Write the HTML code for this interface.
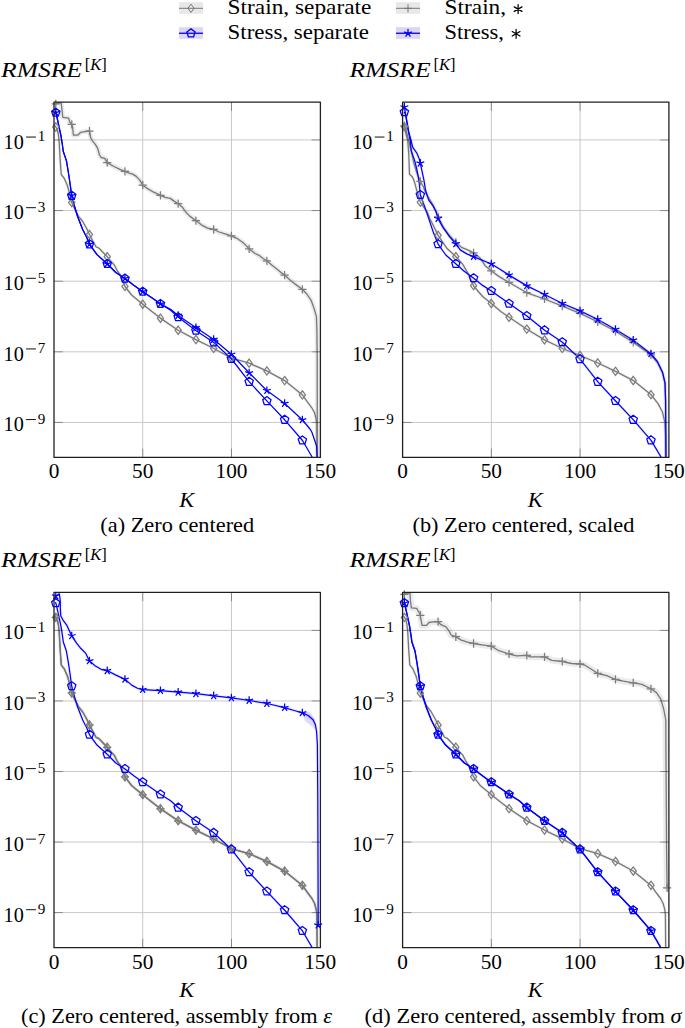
<!DOCTYPE html><html><head><meta charset="utf-8"><style>html,body{margin:0;padding:0;background:#fff;width:685px;height:1028px;overflow:hidden}svg{display:block}text{font-family:"Liberation Serif",serif}</style></head><body>
<svg width="685" height="1028" viewBox="0 0 685 1028">
<rect x="179" y="2.2" width="24" height="11.6" fill="#e8e8e8"/><path d="M179 8.3H203" stroke="#777777" stroke-width="1.0"/><path d="M191 4.16L194.1 8.3L191 12.44L187.9 8.3Z" fill="none" stroke="#777777" stroke-width="1.0"/>
<rect x="179" y="27.2" width="24" height="11.6" fill="#dcd5f4"/><path d="M179 33.25H203" stroke="#0000ff" stroke-width="1.3"/><path d="M191 28.86L186.83 31.89L188.42 36.8L193.58 36.8L195.17 31.89Z" fill="none" stroke="#0000ff" stroke-width="1.3"/>
<rect x="396" y="2.2" width="24" height="11.6" fill="#e8e8e8"/><path d="M396 8.3H420" stroke="#777777" stroke-width="1.0"/><path d="M403.86 8.3H412.14M408 4.16V12.44" fill="none" stroke="#777777" stroke-width="1.0"/>
<rect x="396" y="27.2" width="24" height="11.6" fill="#dcd5f4"/><path d="M396 33.25H420" stroke="#0000ff" stroke-width="1.3"/><path d="M408 33.25L408 29.11M408 33.25L404.06 31.97M408 33.25L405.57 36.6M408 33.25L410.43 36.6M408 33.25L411.94 31.97" fill="none" stroke="#0000ff" stroke-width="1.3"/>
<text x="227.6" y="14.4" font-size="20.7" textLength="143.8" lengthAdjust="spacingAndGlyphs">Strain, separate</text>
<text x="227.6" y="39.1" font-size="20.7" textLength="141.4" lengthAdjust="spacingAndGlyphs">Stress, separate</text>
<text x="444.6" y="14.4" font-size="20.7" textLength="61.5" lengthAdjust="spacingAndGlyphs">Strain,</text>
<text x="444.6" y="39.1" font-size="20.7" textLength="59.3" lengthAdjust="spacingAndGlyphs">Stress,</text>
<path d="M518.1 13.6L518.1 4.6M514.2 11.35L522 6.85M522 11.35L514.2 6.85" stroke="#000" stroke-width="1.25" stroke-linecap="round" fill="none"/>
<path d="M516.1 38.3L516.1 29.3M512.2 36.05L520 31.55M520 36.05L512.2 31.55" stroke="#000" stroke-width="1.25" stroke-linecap="round" fill="none"/>
<path d="M142.73 102.1V457.4M231.47 102.1V457.4M54 139.95H320.4M54 210.57H320.4M54 281.2H320.4M54 351.82H320.4M54 422.45H320.4" stroke="#c9c9c9" stroke-width="1.0" fill="none"/>
<svg x="54" y="102.1" width="266.4" height="355.3" viewBox="54 102.1 266.4 355.3" overflow="hidden">
<path d="M54.9 125.5L57.3 129.5L58.4 134.5L59.2 142.2L59.6 150L60.2 160.6L61.2 174.4L64.3 178.5L65.3 180.8L67.4 185.5L69.4 193L71.5 202L74.5 208.5L78.6 216.3L82.7 221.5L86.8 228.8L89.8 235.2L96 246.8L98.8 248L107.3 256.8L111.3 261.7L114.2 264.7L117.4 271L120.3 275L125 286.5L131.6 295L142.8 304.3L152.2 311.8L160.3 318.1L178.1 330.2L195.9 339.6L213.9 348.5L231.6 358.2L249.2 363.2L266.8 370.9L284.6 380.6L302.5 395L307 401.4L311.8 407.8L314.5 412.8L316.2 419.2L316.8 424.5L317.1 458" fill="none" stroke="#000" stroke-opacity="0.06" stroke-width="3.2" stroke-linejoin="round" stroke-linecap="round"/>
<path d="M55.5 104.2L57 103L61 102.5L61.3 104L62.8 117.3L68.6 118.1L69.7 122.1L71.5 123.7L72.6 127.2L73.4 135.2L77.7 135.2L80.7 132.3L85 131.6L89.5 131L90.7 137.8L92.4 140.8L95.3 144.3L97.7 148.4L99.4 154.8L101.2 157.5L104.7 158.3L107 162.6L114 166.5L119.9 169.4L124.8 171.4L128.6 172.9L132.7 174.1L136.2 176.4L139.7 179.9L142.5 185L146.7 188.1L153.7 192.2L160.5 195.3L165.2 197.4L170.3 198.4L174 201.1L178.4 203.7L182.7 207.6L185.7 212L190 216.4L196.2 220.8L201.7 225.1L207.6 228.1L213.7 229.5L219.2 232L225.1 233.9L231.2 235.8L236.8 238.3L242.6 242.2L246.2 245.6L249.5 249.2L255.1 253.5L259.6 255.7L263 258.5L266.9 260.8L272 265.3L276.5 268.7L281 272.6L284.6 275.1L290 279.9L295.6 284.4L302.6 289.5L306.8 294L311.3 300.7L314.1 308.6L316.4 316.4L316.9 330L317.2 360L317.3 458" fill="none" stroke="#000" stroke-opacity="0.08" stroke-width="5.0" stroke-linejoin="round" stroke-linecap="round"/>
<path d="M54.9 125.5L57.3 129.5L58.4 134.5L59.2 142.2L59.6 150L60.2 160.6L61.2 174.4L64.3 178.5L65.3 180.8L67.4 185.5L69.4 193L71.5 202L74.5 208.5L78.6 216.3L82.7 221.5L86.8 228.8L89.8 235.2L96 246.8L98.8 248L107.3 256.8L111.3 261.7L114.2 264.7L117.4 271L120.3 275L125 286.5L131.6 295L142.8 304.3L152.2 311.8L160.3 318.1L178.1 330.2L195.9 339.6L213.9 348.5L231.6 358.2L249.2 363.2L266.8 370.9L284.6 380.6L302.5 395L307 401.4L311.8 407.8L314.5 412.8L316.2 419.2L316.8 424.5L317.1 458" fill="none" stroke="#777777" stroke-width="1.3" stroke-linejoin="round"/>
<path d="M55.5 104.2L57 103L61 102.5L61.3 104L62.8 117.3L68.6 118.1L69.7 122.1L71.5 123.7L72.6 127.2L73.4 135.2L77.7 135.2L80.7 132.3L85 131.6L89.5 131L90.7 137.8L92.4 140.8L95.3 144.3L97.7 148.4L99.4 154.8L101.2 157.5L104.7 158.3L107 162.6L114 166.5L119.9 169.4L124.8 171.4L128.6 172.9L132.7 174.1L136.2 176.4L139.7 179.9L142.5 185L146.7 188.1L153.7 192.2L160.5 195.3L165.2 197.4L170.3 198.4L174 201.1L178.4 203.7L182.7 207.6L185.7 212L190 216.4L196.2 220.8L201.7 225.1L207.6 228.1L213.7 229.5L219.2 232L225.1 233.9L231.2 235.8L236.8 238.3L242.6 242.2L246.2 245.6L249.5 249.2L255.1 253.5L259.6 255.7L263 258.5L266.9 260.8L272 265.3L276.5 268.7L281 272.6L284.6 275.1L290 279.9L295.6 284.4L302.6 289.5L306.8 294L311.3 300.7L314.1 308.6L316.4 316.4L316.9 330L317.2 360L317.3 458" fill="none" stroke="#777777" stroke-width="1.3" stroke-linejoin="round"/>
<path d="M55.5 111.6L56.6 115.5L58.8 125.7L61 136L62.4 145L63.3 151.5L66.4 160.6L68.4 172.5L70.4 186L71.5 194.8L74.5 206.2L77.6 216.5L82.7 229.5L86.8 237.5L89.4 244.1L97 254.6L107.2 263.8L115.8 272.5L125 278.5L133.8 285.3L142.8 291.7L152.2 298.1L160.3 303.8L170.6 310.3L178.1 317L195.8 330.4L213.8 342.4L231.5 359L249.1 381.7L266.8 400.9L284.7 419.8L302.5 440.5L312.7 458" fill="none" stroke="#0000ff" stroke-width="1.25" stroke-linejoin="round"/>
<path d="M55.5 111.6L56.6 115.5L58.8 125.7L61 136L62.4 145L63.3 151.5L66.4 160.6L68.4 172.5L70.4 186L71.5 194.8L74.5 206.2L77.6 216.5L82.7 229.5L86.8 237.5L89.4 244.1L97 254.6L107.2 263.8L115.8 272.5L125 278.5L133.8 285.3L142.8 291.7L152.2 298.1L160.3 303.8L170.6 309.3L178.1 315.4L195.8 327.6L213.8 339.5L231.4 354.3L249.1 372.8L266.8 390.5L284.7 403.5L302.5 420L310.4 429.5L312 432.5L316.6 446L317.2 458" fill="none" stroke="#0000ff" stroke-width="1.25" stroke-linejoin="round"/>
</svg>
<path d="M55.77 122.82L58.88 126.96L55.77 131.1L52.67 126.96Z" fill="none" stroke="#7d7d7d" stroke-width="1.25"/>
<path d="M71.74 198.38L74.85 202.52L71.74 206.66L68.64 202.52Z" fill="none" stroke="#7d7d7d" stroke-width="1.25"/>
<path d="M89.48 230.38L92.59 234.52L89.48 238.66L86.38 234.52Z" fill="none" stroke="#7d7d7d" stroke-width="1.25"/>
<path d="M107.22 252.58L110.33 256.72L107.22 260.86L104.11 256.72Z" fill="none" stroke="#7d7d7d" stroke-width="1.25"/>
<path d="M124.96 282.26L128.06 286.4L124.96 290.54L121.86 286.4Z" fill="none" stroke="#7d7d7d" stroke-width="1.25"/>
<path d="M142.7 300.08L145.81 304.22L142.7 308.36L139.6 304.22Z" fill="none" stroke="#7d7d7d" stroke-width="1.25"/>
<path d="M160.44 314.06L163.54 318.2L160.44 322.34L157.34 318.2Z" fill="none" stroke="#7d7d7d" stroke-width="1.25"/>
<path d="M178.18 326.1L181.28 330.24L178.18 334.38L175.08 330.24Z" fill="none" stroke="#7d7d7d" stroke-width="1.25"/>
<path d="M195.92 335.47L199.03 339.61L195.92 343.75L192.82 339.61Z" fill="none" stroke="#7d7d7d" stroke-width="1.25"/>
<path d="M213.66 344.24L216.77 348.38L213.66 352.52L210.56 348.38Z" fill="none" stroke="#7d7d7d" stroke-width="1.25"/>
<path d="M231.4 353.95L234.51 358.09L231.4 362.23L228.3 358.09Z" fill="none" stroke="#7d7d7d" stroke-width="1.25"/>
<path d="M249.14 359.04L252.25 363.18L249.14 367.32L246.04 363.18Z" fill="none" stroke="#7d7d7d" stroke-width="1.25"/>
<path d="M266.88 366.8L269.99 370.94L266.88 375.08L263.77 370.94Z" fill="none" stroke="#7d7d7d" stroke-width="1.25"/>
<path d="M284.62 376.48L287.73 380.62L284.62 384.76L281.51 380.62Z" fill="none" stroke="#7d7d7d" stroke-width="1.25"/>
<path d="M302.36 390.75L305.47 394.89L302.36 399.03L299.25 394.89Z" fill="none" stroke="#7d7d7d" stroke-width="1.25"/>
<path d="M51.63 103.98H59.91M55.77 99.84V108.12" fill="none" stroke="#7d7d7d" stroke-width="1.25"/>
<path d="M67.6 124.46H75.88M71.74 120.32V128.6" fill="none" stroke="#7d7d7d" stroke-width="1.25"/>
<path d="M85.34 131H93.62M89.48 126.86V135.14" fill="none" stroke="#7d7d7d" stroke-width="1.25"/>
<path d="M103.08 162.72H111.36M107.22 158.58V166.86" fill="none" stroke="#7d7d7d" stroke-width="1.25"/>
<path d="M120.82 171.46H129.1M124.96 167.32V175.6" fill="none" stroke="#7d7d7d" stroke-width="1.25"/>
<path d="M138.56 185.15H146.84M142.7 181.01V189.29" fill="none" stroke="#7d7d7d" stroke-width="1.25"/>
<path d="M156.3 195.27H164.58M160.44 191.13V199.41" fill="none" stroke="#7d7d7d" stroke-width="1.25"/>
<path d="M174.04 203.57H182.32M178.18 199.43V207.71" fill="none" stroke="#7d7d7d" stroke-width="1.25"/>
<path d="M191.78 220.6H200.06M195.92 216.46V224.74" fill="none" stroke="#7d7d7d" stroke-width="1.25"/>
<path d="M209.52 229.49H217.8M213.66 225.35V233.63" fill="none" stroke="#7d7d7d" stroke-width="1.25"/>
<path d="M227.26 235.89H235.54M231.4 231.75V240.03" fill="none" stroke="#7d7d7d" stroke-width="1.25"/>
<path d="M245 248.81H253.28M249.14 244.67V252.95" fill="none" stroke="#7d7d7d" stroke-width="1.25"/>
<path d="M262.74 260.79H271.02M266.88 256.65V264.93" fill="none" stroke="#7d7d7d" stroke-width="1.25"/>
<path d="M280.48 275.12H288.76M284.62 270.98V279.26" fill="none" stroke="#7d7d7d" stroke-width="1.25"/>
<path d="M298.22 289.33H306.5M302.36 285.19V293.47" fill="none" stroke="#7d7d7d" stroke-width="1.25"/>
<path d="M55.77 108.18L51.6 111.22L53.19 116.12L58.35 116.12L59.95 111.22Z" fill="none" stroke="#0000ff" stroke-width="1.25"/>
<path d="M71.74 191.32L67.57 194.36L69.16 199.26L74.32 199.26L75.91 194.36Z" fill="none" stroke="#0000ff" stroke-width="1.25"/>
<path d="M89.48 239.82L85.31 242.85L86.9 247.76L92.06 247.76L93.65 242.85Z" fill="none" stroke="#0000ff" stroke-width="1.25"/>
<path d="M107.22 259.43L103.05 262.46L104.64 267.37L109.8 267.37L111.39 262.46Z" fill="none" stroke="#0000ff" stroke-width="1.25"/>
<path d="M124.96 274.09L120.79 277.12L122.38 282.02L127.54 282.02L129.13 277.12Z" fill="none" stroke="#0000ff" stroke-width="1.25"/>
<path d="M142.7 287.24L138.53 290.27L140.12 295.18L145.28 295.18L146.87 290.27Z" fill="none" stroke="#0000ff" stroke-width="1.25"/>
<path d="M160.44 299.5L156.27 302.53L157.86 307.44L163.02 307.44L164.61 302.53Z" fill="none" stroke="#0000ff" stroke-width="1.25"/>
<path d="M178.18 312.67L174.01 315.7L175.6 320.61L180.76 320.61L182.35 315.7Z" fill="none" stroke="#0000ff" stroke-width="1.25"/>
<path d="M195.92 326.09L191.75 329.12L193.34 334.03L198.5 334.03L200.09 329.12Z" fill="none" stroke="#0000ff" stroke-width="1.25"/>
<path d="M213.66 337.92L209.49 340.95L211.08 345.86L216.24 345.86L217.83 340.95Z" fill="none" stroke="#0000ff" stroke-width="1.25"/>
<path d="M231.4 354.52L227.23 357.55L228.82 362.46L233.98 362.46L235.57 357.55Z" fill="none" stroke="#0000ff" stroke-width="1.25"/>
<path d="M249.14 377.35L244.97 380.39L246.56 385.29L251.72 385.29L253.31 380.39Z" fill="none" stroke="#0000ff" stroke-width="1.25"/>
<path d="M266.88 396.6L262.71 399.63L264.3 404.53L269.46 404.53L271.05 399.63Z" fill="none" stroke="#0000ff" stroke-width="1.25"/>
<path d="M284.62 415.33L280.45 418.36L282.04 423.27L287.2 423.27L288.79 418.36Z" fill="none" stroke="#0000ff" stroke-width="1.25"/>
<path d="M302.36 435.95L298.19 438.98L299.78 443.89L304.94 443.89L306.53 438.98Z" fill="none" stroke="#0000ff" stroke-width="1.25"/>
<path d="M55.77 112.57L55.77 108.43M55.77 112.57L51.84 111.29M55.77 112.57L53.34 115.92M55.77 112.57L58.21 115.92M55.77 112.57L59.71 111.29" fill="none" stroke="#0000ff" stroke-width="1.25"/>
<path d="M71.74 195.71L71.74 191.57M71.74 195.71L67.8 194.43M71.74 195.71L69.31 199.06M71.74 195.71L74.17 199.06M71.74 195.71L75.68 194.43" fill="none" stroke="#0000ff" stroke-width="1.25"/>
<path d="M89.48 244.21L89.48 240.07M89.48 244.21L85.54 242.93M89.48 244.21L87.05 247.56M89.48 244.21L91.91 247.56M89.48 244.21L93.42 242.93" fill="none" stroke="#0000ff" stroke-width="1.25"/>
<path d="M107.22 263.82L107.22 259.68M107.22 263.82L103.28 262.54M107.22 263.82L104.79 267.17M107.22 263.82L109.65 267.17M107.22 263.82L111.16 262.54" fill="none" stroke="#0000ff" stroke-width="1.25"/>
<path d="M124.96 278.47L124.96 274.33M124.96 278.47L121.02 277.19M124.96 278.47L122.53 281.82M124.96 278.47L127.39 281.82M124.96 278.47L128.9 277.19" fill="none" stroke="#0000ff" stroke-width="1.25"/>
<path d="M142.7 291.63L142.7 287.49M142.7 291.63L138.76 290.35M142.7 291.63L140.27 294.98M142.7 291.63L145.13 294.98M142.7 291.63L146.64 290.35" fill="none" stroke="#0000ff" stroke-width="1.25"/>
<path d="M160.44 303.87L160.44 299.73M160.44 303.87L156.5 302.6M160.44 303.87L158.01 307.22M160.44 303.87L162.87 307.22M160.44 303.87L164.38 302.6" fill="none" stroke="#0000ff" stroke-width="1.25"/>
<path d="M178.18 315.46L178.18 311.32M178.18 315.46L174.24 314.18M178.18 315.46L175.75 318.8M178.18 315.46L180.61 318.8M178.18 315.46L182.12 314.18" fill="none" stroke="#0000ff" stroke-width="1.25"/>
<path d="M195.92 327.68L195.92 323.54M195.92 327.68L191.98 326.4M195.92 327.68L193.49 331.03M195.92 327.68L198.35 331.03M195.92 327.68L199.86 326.4" fill="none" stroke="#0000ff" stroke-width="1.25"/>
<path d="M213.66 339.41L213.66 335.27M213.66 339.41L209.72 338.13M213.66 339.41L211.23 342.76M213.66 339.41L216.09 342.76M213.66 339.41L217.6 338.13" fill="none" stroke="#0000ff" stroke-width="1.25"/>
<path d="M231.4 354.3L231.4 350.16M231.4 354.3L227.46 353.02M231.4 354.3L228.97 357.65M231.4 354.3L233.83 357.65M231.4 354.3L235.34 353.02" fill="none" stroke="#0000ff" stroke-width="1.25"/>
<path d="M249.14 372.84L249.14 368.7M249.14 372.84L245.2 371.56M249.14 372.84L246.71 376.19M249.14 372.84L251.57 376.19M249.14 372.84L253.08 371.56" fill="none" stroke="#0000ff" stroke-width="1.25"/>
<path d="M266.88 390.56L266.88 386.42M266.88 390.56L262.94 389.28M266.88 390.56L264.45 393.91M266.88 390.56L269.31 393.91M266.88 390.56L270.82 389.28" fill="none" stroke="#0000ff" stroke-width="1.25"/>
<path d="M284.62 403.44L284.62 399.3M284.62 403.44L280.68 402.16M284.62 403.44L282.19 406.79M284.62 403.44L287.05 406.79M284.62 403.44L288.56 402.16" fill="none" stroke="#0000ff" stroke-width="1.25"/>
<path d="M302.36 419.87L302.36 415.73M302.36 419.87L298.42 418.59M302.36 419.87L299.93 423.22M302.36 419.87L304.79 423.22M302.36 419.87L306.3 418.59" fill="none" stroke="#0000ff" stroke-width="1.25"/>
<path d="M142.73 457.4v-8.8M142.73 102.1v8.8M231.47 457.4v-8.8M231.47 102.1v8.8M54 139.95h8.8M320.4 139.95h-8.8M54 210.57h8.8M320.4 210.57h-8.8M54 281.2h8.8M320.4 281.2h-8.8M54 351.82h8.8M320.4 351.82h-8.8M54 422.45h8.8M320.4 422.45h-8.8" stroke="#000" stroke-opacity="0.38" stroke-width="0.9" fill="none"/>
<path d="M54 102.1H320.4V457.4H54Z" fill="none" stroke="#202020" stroke-width="1.3" stroke-linejoin="round"/>
<text x="3.6" y="148.85" font-size="21.3" textLength="20.2" lengthAdjust="spacingAndGlyphs">10</text>
<rect x="26.1" y="136.55" width="9.8" height="1.0" fill="#111"/>
<text x="41.5" y="141.45" font-size="15.11" text-anchor="middle">1</text>
<text x="3.6" y="219.47" font-size="21.3" textLength="20.2" lengthAdjust="spacingAndGlyphs">10</text>
<rect x="26.1" y="207.17" width="9.8" height="1.0" fill="#111"/>
<text x="41.5" y="212.07" font-size="15.11" text-anchor="middle">3</text>
<text x="3.6" y="290.1" font-size="21.3" textLength="20.2" lengthAdjust="spacingAndGlyphs">10</text>
<rect x="26.1" y="277.8" width="9.8" height="1.0" fill="#111"/>
<text x="41.5" y="282.7" font-size="15.11" text-anchor="middle">5</text>
<text x="3.6" y="360.72" font-size="21.3" textLength="20.2" lengthAdjust="spacingAndGlyphs">10</text>
<rect x="26.1" y="348.43" width="9.8" height="1.0" fill="#111"/>
<text x="41.5" y="353.32" font-size="15.11" text-anchor="middle">7</text>
<text x="3.6" y="431.35" font-size="21.3" textLength="20.2" lengthAdjust="spacingAndGlyphs">10</text>
<rect x="26.1" y="419.05" width="9.8" height="1.0" fill="#111"/>
<text x="41.5" y="423.95" font-size="15.11" text-anchor="middle">9</text>
<text x="54" y="478.2" font-size="21.3" text-anchor="middle">0</text>
<text x="142.73" y="478.2" font-size="21.3" text-anchor="middle">50</text>
<text x="231.47" y="478.2" font-size="21.3" text-anchor="middle">100</text>
<text x="320.2" y="478.2" font-size="21.3" text-anchor="middle">150</text>
<text x="179.2" y="506.8" font-size="21.3" font-style="italic" textLength="15.0" lengthAdjust="spacingAndGlyphs">K</text>
<text x="1" y="76.7" font-size="20.7" font-style="italic" textLength="81" lengthAdjust="spacingAndGlyphs">RMSRE</text>
<text x="84.8" y="69.5" font-size="17.2" textLength="22" lengthAdjust="spacingAndGlyphs">[<tspan font-style="italic">K</tspan>]</text>
<text x="100.3" y="532.4" font-size="21.2" textLength="153.9" lengthAdjust="spacingAndGlyphs">(a) Zero centered</text>
<path d="M491.33 102.1V457.4M580.07 102.1V457.4M402.6 139.95H668.9M402.6 210.57H668.9M402.6 281.2H668.9M402.6 351.82H668.9M402.6 422.45H668.9" stroke="#c9c9c9" stroke-width="1.0" fill="none"/>
<svg x="402.6" y="102.1" width="266.3" height="355.3" viewBox="402.6 102.1 266.3 355.3" overflow="hidden">
<path d="M404.1 125.2L405 130L407.7 140L408.8 154.6L409.5 174.3L412.5 177L414.6 182.3L417 191.3L420.3 202.1L427.5 212.7L430 219.1L433.6 226L438.1 235.4L447.1 248.6L456 256.8L462.8 264.4L468.1 273.6L473.8 286.2L482.7 296.5L491.4 303.6L501.1 311.8L509.1 317.3L526.9 329.2L544.6 339.9L562.4 348.5L580.1 355.5L597.9 363L615.6 371.4L633.4 380.6L651.1 394.8L658.1 403.6L662.5 412.3L664.8 422L665.5 435.1L665.6 458" fill="none" stroke="#000" stroke-opacity="0.06" stroke-width="3.2" stroke-linejoin="round" stroke-linecap="round"/>
<path d="M404.1 125.2L406 130L408.5 140L410.5 148L412 154.6L413.9 163.4L416.8 172.8L420.3 181.2L423.4 186.7L425.4 192.3L431.6 202.5L435.9 210.5L438.1 217L443.1 226.6L449.7 235.8L456 242.7L461.5 247.3L469.4 250.6L474 253.2L479.9 257.8L485.2 265.7L491.4 271L499.6 276.9L509.1 282.5L526.9 292.8L544.6 299L562.4 306.2L580.1 313.4L597.9 321.9L615.6 331.3L633.4 342.4L651.1 355L657.4 362.5L662.6 373.3L665 383.7L665.5 400L665.8 458" fill="none" stroke="#000" stroke-opacity="0.07" stroke-width="3.6" stroke-linejoin="round" stroke-linecap="round"/>
<path d="M404.3 112L405.9 115.5L407.5 125L408.8 133L410.2 140L411.3 151L414.6 160.4L416.8 169.2L418.2 176.5L419.3 183.8L420.3 194.8L425.4 208.6L429.5 220.9L433.6 233.1L438.1 244.1L445.8 255L456 264L464.2 271.3L474 278.5L482.6 285.4L491.4 291L509.1 303.6L526.9 316L544.6 330.3L562.4 342.2L580.1 359.1L597.9 381.9L615.6 401L633.4 419.9L651.1 440.4L661.6 458" fill="none" stroke="#4020e0" stroke-opacity="0.06" stroke-width="3.0" stroke-linejoin="round" stroke-linecap="round"/>
<path d="M404.1 105.4L405.2 112L406.5 120L408.2 130L409.5 135L410.9 140L412.8 147.3L416.8 153.1L419 158.2L420.4 163.4L421.9 170.7L424.1 180.9L425.5 190L428.7 200.1L433 205.9L436 211.8L438.1 218.6L443.1 227.6L449.7 236.8L456 244L460.2 249.9L466.8 253.9L474 256.8L482.6 260.4L491.4 264L499.6 269L509.1 275.1L526.9 285.9L544.6 294.5L562.4 303.5L580.1 310.9L597.9 319.5L615.6 329.5L633.4 340.2L651.1 354L657.4 361.5L662.6 372.3L665 382.7L665.6 400L666 458" fill="none" stroke="#4020e0" stroke-opacity="0.07" stroke-width="3.0" stroke-linejoin="round" stroke-linecap="round"/>
<path d="M404.1 125.2L405 130L407.7 140L408.8 154.6L409.5 174.3L412.5 177L414.6 182.3L417 191.3L420.3 202.1L427.5 212.7L430 219.1L433.6 226L438.1 235.4L447.1 248.6L456 256.8L462.8 264.4L468.1 273.6L473.8 286.2L482.7 296.5L491.4 303.6L501.1 311.8L509.1 317.3L526.9 329.2L544.6 339.9L562.4 348.5L580.1 355.5L597.9 363L615.6 371.4L633.4 380.6L651.1 394.8L658.1 403.6L662.5 412.3L664.8 422L665.5 435.1L665.6 458" fill="none" stroke="#777777" stroke-width="1.3" stroke-linejoin="round"/>
<path d="M404.1 125.2L406 130L408.5 140L410.5 148L412 154.6L413.9 163.4L416.8 172.8L420.3 181.2L423.4 186.7L425.4 192.3L431.6 202.5L435.9 210.5L438.1 217L443.1 226.6L449.7 235.8L456 242.7L461.5 247.3L469.4 250.6L474 253.2L479.9 257.8L485.2 265.7L491.4 271L499.6 276.9L509.1 282.5L526.9 292.8L544.6 299L562.4 306.2L580.1 313.4L597.9 321.9L615.6 331.3L633.4 342.4L651.1 355L657.4 362.5L662.6 373.3L665 383.7L665.5 400L665.8 458" fill="none" stroke="#777777" stroke-width="1.3" stroke-linejoin="round"/>
<path d="M404.3 112L405.9 115.5L407.5 125L408.8 133L410.2 140L411.3 151L414.6 160.4L416.8 169.2L418.2 176.5L419.3 183.8L420.3 194.8L425.4 208.6L429.5 220.9L433.6 233.1L438.1 244.1L445.8 255L456 264L464.2 271.3L474 278.5L482.6 285.4L491.4 291L509.1 303.6L526.9 316L544.6 330.3L562.4 342.2L580.1 359.1L597.9 381.9L615.6 401L633.4 419.9L651.1 440.4L661.6 458" fill="none" stroke="#0000ff" stroke-width="1.25" stroke-linejoin="round"/>
<path d="M404.1 105.4L405.2 112L406.5 120L408.2 130L409.5 135L410.9 140L412.8 147.3L416.8 153.1L419 158.2L420.4 163.4L421.9 170.7L424.1 180.9L425.5 190L428.7 200.1L433 205.9L436 211.8L438.1 218.6L443.1 227.6L449.7 236.8L456 244L460.2 249.9L466.8 253.9L474 256.8L482.6 260.4L491.4 264L499.6 269L509.1 275.1L526.9 285.9L544.6 294.5L562.4 303.5L580.1 310.9L597.9 319.5L615.6 329.5L633.4 340.2L651.1 354L657.4 361.5L662.6 372.3L665 382.7L665.6 400L666 458" fill="none" stroke="#0000ff" stroke-width="1.25" stroke-linejoin="round"/>
</svg>
<path d="M404.37 122.52L407.48 126.66L404.37 130.8L401.27 126.66Z" fill="none" stroke="#7d7d7d" stroke-width="1.25"/>
<path d="M420.34 198.02L423.45 202.16L420.34 206.3L417.24 202.16Z" fill="none" stroke="#7d7d7d" stroke-width="1.25"/>
<path d="M438.08 231.22L441.19 235.36L438.08 239.5L434.98 235.36Z" fill="none" stroke="#7d7d7d" stroke-width="1.25"/>
<path d="M455.82 252.49L458.93 256.63L455.82 260.77L452.72 256.63Z" fill="none" stroke="#7d7d7d" stroke-width="1.25"/>
<path d="M473.56 281.53L476.67 285.67L473.56 289.81L470.46 285.67Z" fill="none" stroke="#7d7d7d" stroke-width="1.25"/>
<path d="M491.3 299.38L494.41 303.52L491.3 307.66L488.2 303.52Z" fill="none" stroke="#7d7d7d" stroke-width="1.25"/>
<path d="M509.04 313.12L512.14 317.26L509.04 321.4L505.94 317.26Z" fill="none" stroke="#7d7d7d" stroke-width="1.25"/>
<path d="M526.78 324.98L529.89 329.12L526.78 333.26L523.68 329.12Z" fill="none" stroke="#7d7d7d" stroke-width="1.25"/>
<path d="M544.52 335.71L547.62 339.85L544.52 343.99L541.41 339.85Z" fill="none" stroke="#7d7d7d" stroke-width="1.25"/>
<path d="M562.26 344.29L565.37 348.43L562.26 352.57L559.15 348.43Z" fill="none" stroke="#7d7d7d" stroke-width="1.25"/>
<path d="M580 351.32L583.11 355.46L580 359.6L576.89 355.46Z" fill="none" stroke="#7d7d7d" stroke-width="1.25"/>
<path d="M597.74 358.79L600.85 362.93L597.74 367.07L594.63 362.93Z" fill="none" stroke="#7d7d7d" stroke-width="1.25"/>
<path d="M615.48 367.2L618.59 371.34L615.48 375.48L612.38 371.34Z" fill="none" stroke="#7d7d7d" stroke-width="1.25"/>
<path d="M633.22 376.37L636.33 380.51L633.22 384.65L630.12 380.51Z" fill="none" stroke="#7d7d7d" stroke-width="1.25"/>
<path d="M650.96 390.55L654.07 394.69L650.96 398.83L647.86 394.69Z" fill="none" stroke="#7d7d7d" stroke-width="1.25"/>
<path d="M400.23 125.89H408.51M404.37 121.75V130.03" fill="none" stroke="#7d7d7d" stroke-width="1.25"/>
<path d="M416.2 181.27H424.48M420.34 177.13V185.41" fill="none" stroke="#7d7d7d" stroke-width="1.25"/>
<path d="M433.94 216.94H442.22M438.08 212.8V221.08" fill="none" stroke="#7d7d7d" stroke-width="1.25"/>
<path d="M451.68 242.5H459.96M455.82 238.36V246.64" fill="none" stroke="#7d7d7d" stroke-width="1.25"/>
<path d="M469.42 252.95H477.7M473.56 248.81V257.09" fill="none" stroke="#7d7d7d" stroke-width="1.25"/>
<path d="M487.16 270.91H495.44M491.3 266.77V275.05" fill="none" stroke="#7d7d7d" stroke-width="1.25"/>
<path d="M504.9 282.46H513.18M509.04 278.32V286.6" fill="none" stroke="#7d7d7d" stroke-width="1.25"/>
<path d="M522.64 292.73H530.92M526.78 288.59V296.87" fill="none" stroke="#7d7d7d" stroke-width="1.25"/>
<path d="M540.38 298.97H548.66M544.52 294.83V303.11" fill="none" stroke="#7d7d7d" stroke-width="1.25"/>
<path d="M558.12 306.14H566.4M562.26 302V310.28" fill="none" stroke="#7d7d7d" stroke-width="1.25"/>
<path d="M575.86 313.36H584.14M580 309.22V317.5" fill="none" stroke="#7d7d7d" stroke-width="1.25"/>
<path d="M593.6 321.82H601.88M597.74 317.68V325.96" fill="none" stroke="#7d7d7d" stroke-width="1.25"/>
<path d="M611.34 331.24H619.62M615.48 327.1V335.38" fill="none" stroke="#7d7d7d" stroke-width="1.25"/>
<path d="M629.08 342.29H637.36M633.22 338.15V346.43" fill="none" stroke="#7d7d7d" stroke-width="1.25"/>
<path d="M646.82 354.9H655.1M650.96 350.76V359.04" fill="none" stroke="#7d7d7d" stroke-width="1.25"/>
<path d="M404.37 107.77L400.2 110.81L401.79 115.71L406.95 115.71L408.55 110.81Z" fill="none" stroke="#0000ff" stroke-width="1.25"/>
<path d="M420.34 190.52L416.17 193.55L417.76 198.46L422.92 198.46L424.51 193.55Z" fill="none" stroke="#0000ff" stroke-width="1.25"/>
<path d="M438.08 239.66L433.91 242.7L435.5 247.6L440.66 247.6L442.25 242.7Z" fill="none" stroke="#0000ff" stroke-width="1.25"/>
<path d="M455.82 259.45L451.65 262.49L453.24 267.39L458.4 267.39L459.99 262.49Z" fill="none" stroke="#0000ff" stroke-width="1.25"/>
<path d="M473.56 273.79L469.39 276.82L470.98 281.73L476.14 281.73L477.73 276.82Z" fill="none" stroke="#0000ff" stroke-width="1.25"/>
<path d="M491.3 286.55L487.13 289.58L488.72 294.49L493.88 294.49L495.47 289.58Z" fill="none" stroke="#0000ff" stroke-width="1.25"/>
<path d="M509.04 299.17L504.87 302.2L506.46 307.11L511.62 307.11L513.21 302.2Z" fill="none" stroke="#0000ff" stroke-width="1.25"/>
<path d="M526.78 311.53L522.61 314.56L524.2 319.47L529.36 319.47L530.95 314.56Z" fill="none" stroke="#0000ff" stroke-width="1.25"/>
<path d="M544.52 325.85L540.35 328.88L541.94 333.79L547.1 333.79L548.69 328.88Z" fill="none" stroke="#0000ff" stroke-width="1.25"/>
<path d="M562.26 337.72L558.09 340.75L559.68 345.66L564.84 345.66L566.43 340.75Z" fill="none" stroke="#0000ff" stroke-width="1.25"/>
<path d="M580 354.62L575.83 357.65L577.42 362.55L582.58 362.55L584.17 357.65Z" fill="none" stroke="#0000ff" stroke-width="1.25"/>
<path d="M597.74 377.31L593.57 380.34L595.16 385.25L600.32 385.25L601.91 380.34Z" fill="none" stroke="#0000ff" stroke-width="1.25"/>
<path d="M615.48 396.48L611.31 399.51L612.9 404.42L618.06 404.42L619.65 399.51Z" fill="none" stroke="#0000ff" stroke-width="1.25"/>
<path d="M633.22 415.32L629.05 418.35L630.64 423.26L635.8 423.26L637.39 418.35Z" fill="none" stroke="#0000ff" stroke-width="1.25"/>
<path d="M650.96 435.85L646.79 438.88L648.38 443.79L653.54 443.79L655.13 438.88Z" fill="none" stroke="#0000ff" stroke-width="1.25"/>
<path d="M404.37 107.04L404.37 102.9M404.37 107.04L400.44 105.76M404.37 107.04L401.94 110.39M404.37 107.04L406.81 110.39M404.37 107.04L408.31 105.76" fill="none" stroke="#0000ff" stroke-width="1.25"/>
<path d="M420.34 163.18L420.34 159.04M420.34 163.18L416.4 161.9M420.34 163.18L417.91 166.53M420.34 163.18L422.77 166.53M420.34 163.18L424.28 161.9" fill="none" stroke="#0000ff" stroke-width="1.25"/>
<path d="M438.08 218.54L438.08 214.4M438.08 218.54L434.14 217.26M438.08 218.54L435.65 221.88M438.08 218.54L440.51 221.88M438.08 218.54L442.02 217.26" fill="none" stroke="#0000ff" stroke-width="1.25"/>
<path d="M455.82 243.79L455.82 239.65M455.82 243.79L451.88 242.51M455.82 243.79L453.39 247.14M455.82 243.79L458.25 247.14M455.82 243.79L459.76 242.51" fill="none" stroke="#0000ff" stroke-width="1.25"/>
<path d="M473.56 256.62L473.56 252.48M473.56 256.62L469.62 255.34M473.56 256.62L471.13 259.97M473.56 256.62L475.99 259.97M473.56 256.62L477.5 255.34" fill="none" stroke="#0000ff" stroke-width="1.25"/>
<path d="M491.3 263.96L491.3 259.82M491.3 263.96L487.36 262.68M491.3 263.96L488.87 267.31M491.3 263.96L493.73 267.31M491.3 263.96L495.24 262.68" fill="none" stroke="#0000ff" stroke-width="1.25"/>
<path d="M509.04 275.06L509.04 270.92M509.04 275.06L505.1 273.78M509.04 275.06L506.61 278.41M509.04 275.06L511.47 278.41M509.04 275.06L512.98 273.78" fill="none" stroke="#0000ff" stroke-width="1.25"/>
<path d="M526.78 285.83L526.78 281.69M526.78 285.83L522.84 284.55M526.78 285.83L524.35 289.18M526.78 285.83L529.21 289.18M526.78 285.83L530.72 284.55" fill="none" stroke="#0000ff" stroke-width="1.25"/>
<path d="M544.52 294.46L544.52 290.32M544.52 294.46L540.58 293.18M544.52 294.46L542.09 297.81M544.52 294.46L546.95 297.81M544.52 294.46L548.46 293.18" fill="none" stroke="#0000ff" stroke-width="1.25"/>
<path d="M562.26 303.43L562.26 299.29M562.26 303.43L558.32 302.15M562.26 303.43L559.83 306.78M562.26 303.43L564.69 306.78M562.26 303.43L566.2 302.15" fill="none" stroke="#0000ff" stroke-width="1.25"/>
<path d="M580 310.86L580 306.72M580 310.86L576.06 309.58M580 310.86L577.57 314.21M580 310.86L582.43 314.21M580 310.86L583.94 309.58" fill="none" stroke="#0000ff" stroke-width="1.25"/>
<path d="M597.74 319.42L597.74 315.28M597.74 319.42L593.8 318.14M597.74 319.42L595.31 322.77M597.74 319.42L600.17 322.77M597.74 319.42L601.68 318.14" fill="none" stroke="#0000ff" stroke-width="1.25"/>
<path d="M615.48 329.43L615.48 325.29M615.48 329.43L611.54 328.15M615.48 329.43L613.05 332.78M615.48 329.43L617.91 332.78M615.48 329.43L619.42 328.15" fill="none" stroke="#0000ff" stroke-width="1.25"/>
<path d="M633.22 340.09L633.22 335.95M633.22 340.09L629.28 338.81M633.22 340.09L630.79 343.44M633.22 340.09L635.65 343.44M633.22 340.09L637.16 338.81" fill="none" stroke="#0000ff" stroke-width="1.25"/>
<path d="M650.96 353.89L650.96 349.75M650.96 353.89L647.02 352.61M650.96 353.89L648.53 357.24M650.96 353.89L653.39 357.24M650.96 353.89L654.9 352.61" fill="none" stroke="#0000ff" stroke-width="1.25"/>
<path d="M491.33 457.4v-8.8M491.33 102.1v8.8M580.07 457.4v-8.8M580.07 102.1v8.8M402.6 139.95h8.8M668.9 139.95h-8.8M402.6 210.57h8.8M668.9 210.57h-8.8M402.6 281.2h8.8M668.9 281.2h-8.8M402.6 351.82h8.8M668.9 351.82h-8.8M402.6 422.45h8.8M668.9 422.45h-8.8" stroke="#000" stroke-opacity="0.38" stroke-width="0.9" fill="none"/>
<path d="M402.6 102.1H668.9V457.4H402.6Z" fill="none" stroke="#202020" stroke-width="1.3" stroke-linejoin="round"/>
<text x="352.2" y="148.85" font-size="21.3" textLength="20.2" lengthAdjust="spacingAndGlyphs">10</text>
<rect x="374.7" y="136.55" width="9.8" height="1.0" fill="#111"/>
<text x="390.1" y="141.45" font-size="15.11" text-anchor="middle">1</text>
<text x="352.2" y="219.47" font-size="21.3" textLength="20.2" lengthAdjust="spacingAndGlyphs">10</text>
<rect x="374.7" y="207.17" width="9.8" height="1.0" fill="#111"/>
<text x="390.1" y="212.07" font-size="15.11" text-anchor="middle">3</text>
<text x="352.2" y="290.1" font-size="21.3" textLength="20.2" lengthAdjust="spacingAndGlyphs">10</text>
<rect x="374.7" y="277.8" width="9.8" height="1.0" fill="#111"/>
<text x="390.1" y="282.7" font-size="15.11" text-anchor="middle">5</text>
<text x="352.2" y="360.72" font-size="21.3" textLength="20.2" lengthAdjust="spacingAndGlyphs">10</text>
<rect x="374.7" y="348.43" width="9.8" height="1.0" fill="#111"/>
<text x="390.1" y="353.32" font-size="15.11" text-anchor="middle">7</text>
<text x="352.2" y="431.35" font-size="21.3" textLength="20.2" lengthAdjust="spacingAndGlyphs">10</text>
<rect x="374.7" y="419.05" width="9.8" height="1.0" fill="#111"/>
<text x="390.1" y="423.95" font-size="15.11" text-anchor="middle">9</text>
<text x="402.6" y="478.2" font-size="21.3" text-anchor="middle">0</text>
<text x="491.33" y="478.2" font-size="21.3" text-anchor="middle">50</text>
<text x="580.07" y="478.2" font-size="21.3" text-anchor="middle">100</text>
<text x="668.8" y="478.2" font-size="21.3" text-anchor="middle">150</text>
<text x="527.8" y="506.8" font-size="21.3" font-style="italic" textLength="15.0" lengthAdjust="spacingAndGlyphs">K</text>
<text x="349.6" y="76.7" font-size="20.7" font-style="italic" textLength="81" lengthAdjust="spacingAndGlyphs">RMSRE</text>
<text x="433.4" y="69.5" font-size="17.2" textLength="22" lengthAdjust="spacingAndGlyphs">[<tspan font-style="italic">K</tspan>]</text>
<text x="412.5" y="532.4" font-size="21.2" textLength="221.8" lengthAdjust="spacingAndGlyphs">(b) Zero centered, scaled</text>
<path d="M142.73 592.4V947.7M231.47 592.4V947.7M54 630.4H320.4M54 700.95H320.4M54 771.5H320.4M54 842.05H320.4M54 912.6H320.4" stroke="#c9c9c9" stroke-width="1.0" fill="none"/>
<svg x="54" y="592.4" width="266.4" height="355.3" viewBox="54 592.4 266.4 355.3" overflow="hidden">
<path d="M302.5 712.3L307.8 711.6L310.8 713L314.8 719L316 728L314.6 729L311.8 726.2L305.3 721.3L302.5 715Z" fill="#4020e0" fill-opacity="0.17" stroke="none"/>
<path d="M54.9 615.95L57.3 619.95L58.4 624.95L59.2 632.65L59.6 640.45L60.2 651.05L61.2 664.85L64.3 668.95L65.3 671.25L67.4 675.95L69.4 683.45L71.5 692.45L74.5 698.95L78.6 706.75L82.7 711.95L86.8 719.25L89.8 725.65L96 737.25L98.8 738.45L107.3 747.25L111.3 752.15L114.2 755.15L117.4 761.45L120.3 765.45L125 776.95L131.6 785.45L142.8 794.75L152.2 802.25L160.3 808.55L178.1 820.65L195.9 830.05L213.9 838.95L231.6 848.65L249.2 853.65L266.8 861.35L284.6 871.05L302.5 885.45L307 891.85L311.8 898.25L314.5 903.25L316.2 909.65L316.8 914.95L317.1 948.45" fill="none" stroke="#000" stroke-opacity="0.08" stroke-width="3.6" stroke-linejoin="round" stroke-linecap="round"/>
<path d="M55.5 602.05L56.6 605.95L58.8 616.15L61 626.45L62.4 635.45L63.3 641.95L66.4 651.05L68.4 662.95L70.4 676.45L71.5 685.25L74.5 696.65L77.6 706.95L82.7 719.95L86.8 727.95L89.4 734.55L97 745.05L107.2 754.25L115.8 762.95L125 768.95L133.8 775.75L142.8 782.15L152.2 788.55L160.3 794.25L170.6 800.75L178.1 807.45L195.8 820.85L213.8 832.85L231.5 849.45L249.1 872.15L266.8 891.35L284.7 910.25L302.5 930.95L312.7 948.45" fill="none" stroke="#4020e0" stroke-opacity="0.06" stroke-width="3.0" stroke-linejoin="round" stroke-linecap="round"/>
<path d="M55.5 596.2L59.3 593.8L60.2 600L60.4 610L60.8 616L63.4 620.7L66.9 625.4L71.5 635.4L76.6 643.2L80.7 648.3L85.8 653.4L89.2 660.6L95 665.7L101.1 669.3L107.6 670.8L115.4 674.9L125.2 679.4L131.7 685.1L137.9 688.5L143 689.6L160.4 690.6L178.3 692.2L185 692.7L196.2 693.7L214 695.8L231.6 697.8L249.4 700.5L267.2 703.5L285.3 707.8L294.1 710.5L302.5 712.9L308.6 715.7L313 719.7L315.4 724.5L316.6 731.8L317.4 745L317.8 800L318.2 925.1" fill="none" stroke="#4020e0" stroke-opacity="0.09" stroke-width="3.2" stroke-linejoin="round" stroke-linecap="round"/>
<path d="M54.9 615.95L57.3 619.95L58.4 624.95L59.2 632.65L59.6 640.45L60.2 651.05L61.2 664.85L64.3 668.95L65.3 671.25L67.4 675.95L69.4 683.45L71.5 692.45L74.5 698.95L78.6 706.75L82.7 711.95L86.8 719.25L89.8 725.65L96 737.25L98.8 738.45L107.3 747.25L111.3 752.15L114.2 755.15L117.4 761.45L120.3 765.45L125 776.95L131.6 785.45L142.8 794.75L152.2 802.25L160.3 808.55L178.1 820.65L195.9 830.05L213.9 838.95L231.6 848.65L249.2 853.65L266.8 861.35L284.6 871.05L302.5 885.45L307 891.85L311.8 898.25L314.5 903.25L316.2 909.65L316.8 914.95L317.1 948.45" fill="none" stroke="#777777" stroke-width="1.3" stroke-linejoin="round"/>
<path d="M55.05 616.25L57.45 620.25L58.55 625.25L59.35 632.95L59.75 640.75L60.35 651.35L61.35 665.15L64.45 669.25L65.45 671.55L67.55 676.25L69.55 683.75L71.65 692.75L74.65 699.25L78.75 707.05L82.85 712.25L86.95 719.55L89.95 725.95L96.15 737.55L98.95 738.75L107.45 747.55L111.45 752.45L114.35 755.45L117.55 761.75L120.45 765.75L125.15 777.25L131.75 785.75L142.95 795.05L152.35 802.55L160.45 808.85L178.25 820.95L196.05 830.35L214.05 839.25L231.75 848.95L249.35 853.95L266.95 861.65L284.75 871.35L302.65 885.75L307.15 892.15L311.95 898.55L314.65 903.55L316.35 909.95L316.95 915.25L317.25 948.75" fill="none" stroke="#777777" stroke-width="1.3" stroke-linejoin="round"/>
<path d="M55.5 602.05L56.6 605.95L58.8 616.15L61 626.45L62.4 635.45L63.3 641.95L66.4 651.05L68.4 662.95L70.4 676.45L71.5 685.25L74.5 696.65L77.6 706.95L82.7 719.95L86.8 727.95L89.4 734.55L97 745.05L107.2 754.25L115.8 762.95L125 768.95L133.8 775.75L142.8 782.15L152.2 788.55L160.3 794.25L170.6 800.75L178.1 807.45L195.8 820.85L213.8 832.85L231.5 849.45L249.1 872.15L266.8 891.35L284.7 910.25L302.5 930.95L312.7 948.45" fill="none" stroke="#0000ff" stroke-width="1.25" stroke-linejoin="round"/>
<path d="M55.5 596.2L59.3 593.8L60.2 600L60.4 610L60.8 616L63.4 620.7L66.9 625.4L71.5 635.4L76.6 643.2L80.7 648.3L85.8 653.4L89.2 660.6L95 665.7L101.1 669.3L107.6 670.8L115.4 674.9L125.2 679.4L131.7 685.1L137.9 688.5L143 689.6L160.4 690.6L178.3 692.2L185 692.7L196.2 693.7L214 695.8L231.6 697.8L249.4 700.5L267.2 703.5L285.3 707.8L294.1 710.5L302.5 712.9L308.6 715.7L313 719.7L315.4 724.5L316.6 731.8L317.4 745L317.8 800L318.2 925.1" fill="none" stroke="#0000ff" stroke-width="1.25" stroke-linejoin="round"/>
</svg>
<path d="M55.77 613.27L58.88 617.41L55.77 621.55L52.67 617.41Z" fill="none" stroke="#7d7d7d" stroke-width="1.25"/>
<path d="M71.74 688.83L74.85 692.97L71.74 697.11L68.64 692.97Z" fill="none" stroke="#7d7d7d" stroke-width="1.25"/>
<path d="M89.48 720.83L92.59 724.97L89.48 729.11L86.38 724.97Z" fill="none" stroke="#7d7d7d" stroke-width="1.25"/>
<path d="M107.22 743.03L110.33 747.17L107.22 751.31L104.11 747.17Z" fill="none" stroke="#7d7d7d" stroke-width="1.25"/>
<path d="M124.96 772.71L128.06 776.85L124.96 780.99L121.86 776.85Z" fill="none" stroke="#7d7d7d" stroke-width="1.25"/>
<path d="M142.7 790.53L145.81 794.67L142.7 798.81L139.6 794.67Z" fill="none" stroke="#7d7d7d" stroke-width="1.25"/>
<path d="M160.44 804.51L163.54 808.65L160.44 812.79L157.34 808.65Z" fill="none" stroke="#7d7d7d" stroke-width="1.25"/>
<path d="M178.18 816.55L181.28 820.69L178.18 824.83L175.08 820.69Z" fill="none" stroke="#7d7d7d" stroke-width="1.25"/>
<path d="M195.92 825.92L199.03 830.06L195.92 834.2L192.82 830.06Z" fill="none" stroke="#7d7d7d" stroke-width="1.25"/>
<path d="M213.66 834.69L216.77 838.83L213.66 842.97L210.56 838.83Z" fill="none" stroke="#7d7d7d" stroke-width="1.25"/>
<path d="M231.4 844.4L234.51 848.54L231.4 852.68L228.3 848.54Z" fill="none" stroke="#7d7d7d" stroke-width="1.25"/>
<path d="M249.14 849.49L252.25 853.63L249.14 857.77L246.04 853.63Z" fill="none" stroke="#7d7d7d" stroke-width="1.25"/>
<path d="M266.88 857.25L269.99 861.39L266.88 865.53L263.77 861.39Z" fill="none" stroke="#7d7d7d" stroke-width="1.25"/>
<path d="M284.62 866.93L287.73 871.07L284.62 875.21L281.51 871.07Z" fill="none" stroke="#7d7d7d" stroke-width="1.25"/>
<path d="M302.36 881.2L305.47 885.34L302.36 889.48L299.25 885.34Z" fill="none" stroke="#7d7d7d" stroke-width="1.25"/>
<path d="M51.63 617.46H59.91M55.77 613.32V621.6" fill="none" stroke="#7d7d7d" stroke-width="1.25"/>
<path d="M67.6 692.95H75.88M71.74 688.81V697.09" fill="none" stroke="#7d7d7d" stroke-width="1.25"/>
<path d="M85.34 724.95H93.62M89.48 720.81V729.09" fill="none" stroke="#7d7d7d" stroke-width="1.25"/>
<path d="M103.08 747.31H111.36M107.22 743.17V751.45" fill="none" stroke="#7d7d7d" stroke-width="1.25"/>
<path d="M120.82 776.79H129.1M124.96 772.65V780.93" fill="none" stroke="#7d7d7d" stroke-width="1.25"/>
<path d="M138.56 794.84H146.84M142.7 790.7V798.98" fill="none" stroke="#7d7d7d" stroke-width="1.25"/>
<path d="M156.3 808.84H164.58M160.44 804.7V812.98" fill="none" stroke="#7d7d7d" stroke-width="1.25"/>
<path d="M174.04 820.9H182.32M178.18 816.76V825.04" fill="none" stroke="#7d7d7d" stroke-width="1.25"/>
<path d="M191.78 830.28H200.06M195.92 826.14V834.42" fill="none" stroke="#7d7d7d" stroke-width="1.25"/>
<path d="M209.52 839.06H217.8M213.66 834.92V843.2" fill="none" stroke="#7d7d7d" stroke-width="1.25"/>
<path d="M227.26 848.76H235.54M231.4 844.62V852.9" fill="none" stroke="#7d7d7d" stroke-width="1.25"/>
<path d="M245 853.89H253.28M249.14 849.75V858.03" fill="none" stroke="#7d7d7d" stroke-width="1.25"/>
<path d="M262.74 861.62H271.02M266.88 857.48V865.76" fill="none" stroke="#7d7d7d" stroke-width="1.25"/>
<path d="M280.48 871.28H288.76M284.62 867.14V875.42" fill="none" stroke="#7d7d7d" stroke-width="1.25"/>
<path d="M298.22 885.52H306.5M302.36 881.38V889.66" fill="none" stroke="#7d7d7d" stroke-width="1.25"/>
<path d="M55.77 598.63L51.6 601.67L53.19 606.57L58.35 606.57L59.95 601.67Z" fill="none" stroke="#0000ff" stroke-width="1.25"/>
<path d="M71.74 681.77L67.57 684.81L69.16 689.71L74.32 689.71L75.91 684.81Z" fill="none" stroke="#0000ff" stroke-width="1.25"/>
<path d="M89.48 730.27L85.31 733.3L86.9 738.21L92.06 738.21L93.65 733.3Z" fill="none" stroke="#0000ff" stroke-width="1.25"/>
<path d="M107.22 749.88L103.05 752.91L104.64 757.82L109.8 757.82L111.39 752.91Z" fill="none" stroke="#0000ff" stroke-width="1.25"/>
<path d="M124.96 764.54L120.79 767.57L122.38 772.47L127.54 772.47L129.13 767.57Z" fill="none" stroke="#0000ff" stroke-width="1.25"/>
<path d="M142.7 777.69L138.53 780.72L140.12 785.63L145.28 785.63L146.87 780.72Z" fill="none" stroke="#0000ff" stroke-width="1.25"/>
<path d="M160.44 789.95L156.27 792.98L157.86 797.89L163.02 797.89L164.61 792.98Z" fill="none" stroke="#0000ff" stroke-width="1.25"/>
<path d="M178.18 803.12L174.01 806.15L175.6 811.06L180.76 811.06L182.35 806.15Z" fill="none" stroke="#0000ff" stroke-width="1.25"/>
<path d="M195.92 816.54L191.75 819.57L193.34 824.48L198.5 824.48L200.09 819.57Z" fill="none" stroke="#0000ff" stroke-width="1.25"/>
<path d="M213.66 828.37L209.49 831.4L211.08 836.31L216.24 836.31L217.83 831.4Z" fill="none" stroke="#0000ff" stroke-width="1.25"/>
<path d="M231.4 844.97L227.23 848L228.82 852.91L233.98 852.91L235.57 848Z" fill="none" stroke="#0000ff" stroke-width="1.25"/>
<path d="M249.14 867.8L244.97 870.84L246.56 875.74L251.72 875.74L253.31 870.84Z" fill="none" stroke="#0000ff" stroke-width="1.25"/>
<path d="M266.88 887.05L262.71 890.08L264.3 894.98L269.46 894.98L271.05 890.08Z" fill="none" stroke="#0000ff" stroke-width="1.25"/>
<path d="M284.62 905.78L280.45 908.81L282.04 913.72L287.2 913.72L288.79 908.81Z" fill="none" stroke="#0000ff" stroke-width="1.25"/>
<path d="M302.36 926.4L298.19 929.43L299.78 934.34L304.94 934.34L306.53 929.43Z" fill="none" stroke="#0000ff" stroke-width="1.25"/>
<path d="M55.77 596.03L55.77 591.89M55.77 596.03L51.84 594.75M55.77 596.03L53.34 599.38M55.77 596.03L58.21 599.38M55.77 596.03L59.71 594.75" fill="none" stroke="#0000ff" stroke-width="1.25"/>
<path d="M71.74 635.77L71.74 631.63M71.74 635.77L67.8 634.49M71.74 635.77L69.31 639.12M71.74 635.77L74.17 639.12M71.74 635.77L75.68 634.49" fill="none" stroke="#0000ff" stroke-width="1.25"/>
<path d="M89.48 660.85L89.48 656.71M89.48 660.85L85.54 659.57M89.48 660.85L87.05 664.2M89.48 660.85L91.91 664.2M89.48 660.85L93.42 659.57" fill="none" stroke="#0000ff" stroke-width="1.25"/>
<path d="M107.22 670.71L107.22 666.57M107.22 670.71L103.28 669.43M107.22 670.71L104.79 674.06M107.22 670.71L109.65 674.06M107.22 670.71L111.16 669.43" fill="none" stroke="#0000ff" stroke-width="1.25"/>
<path d="M124.96 679.29L124.96 675.15M124.96 679.29L121.02 678.01M124.96 679.29L122.53 682.64M124.96 679.29L127.39 682.64M124.96 679.29L128.9 678.01" fill="none" stroke="#0000ff" stroke-width="1.25"/>
<path d="M142.7 689.54L142.7 685.4M142.7 689.54L138.76 688.26M142.7 689.54L140.27 692.88M142.7 689.54L145.13 692.88M142.7 689.54L146.64 688.26" fill="none" stroke="#0000ff" stroke-width="1.25"/>
<path d="M160.44 690.6L160.44 686.46M160.44 690.6L156.5 689.32M160.44 690.6L158.01 693.95M160.44 690.6L162.87 693.95M160.44 690.6L164.38 689.32" fill="none" stroke="#0000ff" stroke-width="1.25"/>
<path d="M178.18 692.19L178.18 688.05M178.18 692.19L174.24 690.91M178.18 692.19L175.75 695.54M178.18 692.19L180.61 695.54M178.18 692.19L182.12 690.91" fill="none" stroke="#0000ff" stroke-width="1.25"/>
<path d="M195.92 693.68L195.92 689.54M195.92 693.68L191.98 692.4M195.92 693.68L193.49 697.02M195.92 693.68L198.35 697.02M195.92 693.68L199.86 692.4" fill="none" stroke="#0000ff" stroke-width="1.25"/>
<path d="M213.66 695.76L213.66 691.62M213.66 695.76L209.72 694.48M213.66 695.76L211.23 699.11M213.66 695.76L216.09 699.11M213.66 695.76L217.6 694.48" fill="none" stroke="#0000ff" stroke-width="1.25"/>
<path d="M231.4 697.78L231.4 693.64M231.4 697.78L227.46 696.5M231.4 697.78L228.97 701.13M231.4 697.78L233.83 701.13M231.4 697.78L235.34 696.5" fill="none" stroke="#0000ff" stroke-width="1.25"/>
<path d="M249.14 700.46L249.14 696.32M249.14 700.46L245.2 699.18M249.14 700.46L246.71 703.81M249.14 700.46L251.57 703.81M249.14 700.46L253.08 699.18" fill="none" stroke="#0000ff" stroke-width="1.25"/>
<path d="M266.88 703.45L266.88 699.31M266.88 703.45L262.94 702.17M266.88 703.45L264.45 706.8M266.88 703.45L269.31 706.8M266.88 703.45L270.82 702.17" fill="none" stroke="#0000ff" stroke-width="1.25"/>
<path d="M284.62 707.64L284.62 703.5M284.62 707.64L280.68 706.36M284.62 707.64L282.19 710.99M284.62 707.64L287.05 710.99M284.62 707.64L288.56 706.36" fill="none" stroke="#0000ff" stroke-width="1.25"/>
<path d="M302.36 712.86L302.36 708.72M302.36 712.86L298.42 711.58M302.36 712.86L299.93 716.21M302.36 712.86L304.79 716.21M302.36 712.86L306.3 711.58" fill="none" stroke="#0000ff" stroke-width="1.25"/>
<path d="M318.2 925.1L318.2 920.96M318.2 925.1L314.26 923.82M318.2 925.1L315.77 928.45M318.2 925.1L320.63 928.45M318.2 925.1L322.14 923.82" fill="none" stroke="#0000ff" stroke-width="1.25"/>
<path d="M142.73 947.7v-8.8M142.73 592.4v8.8M231.47 947.7v-8.8M231.47 592.4v8.8M54 630.4h8.8M320.4 630.4h-8.8M54 700.95h8.8M320.4 700.95h-8.8M54 771.5h8.8M320.4 771.5h-8.8M54 842.05h8.8M320.4 842.05h-8.8M54 912.6h8.8M320.4 912.6h-8.8" stroke="#000" stroke-opacity="0.38" stroke-width="0.9" fill="none"/>
<path d="M54 592.4H320.4V947.7H54Z" fill="none" stroke="#202020" stroke-width="1.3" stroke-linejoin="round"/>
<text x="3.6" y="639.3" font-size="21.3" textLength="20.2" lengthAdjust="spacingAndGlyphs">10</text>
<rect x="26.1" y="627" width="9.8" height="1.0" fill="#111"/>
<text x="41.5" y="631.9" font-size="15.11" text-anchor="middle">1</text>
<text x="3.6" y="709.85" font-size="21.3" textLength="20.2" lengthAdjust="spacingAndGlyphs">10</text>
<rect x="26.1" y="697.55" width="9.8" height="1.0" fill="#111"/>
<text x="41.5" y="702.45" font-size="15.11" text-anchor="middle">3</text>
<text x="3.6" y="780.4" font-size="21.3" textLength="20.2" lengthAdjust="spacingAndGlyphs">10</text>
<rect x="26.1" y="768.1" width="9.8" height="1.0" fill="#111"/>
<text x="41.5" y="773" font-size="15.11" text-anchor="middle">5</text>
<text x="3.6" y="850.95" font-size="21.3" textLength="20.2" lengthAdjust="spacingAndGlyphs">10</text>
<rect x="26.1" y="838.65" width="9.8" height="1.0" fill="#111"/>
<text x="41.5" y="843.55" font-size="15.11" text-anchor="middle">7</text>
<text x="3.6" y="921.5" font-size="21.3" textLength="20.2" lengthAdjust="spacingAndGlyphs">10</text>
<rect x="26.1" y="909.2" width="9.8" height="1.0" fill="#111"/>
<text x="41.5" y="914.1" font-size="15.11" text-anchor="middle">9</text>
<text x="54" y="968.5" font-size="21.3" text-anchor="middle">0</text>
<text x="142.73" y="968.5" font-size="21.3" text-anchor="middle">50</text>
<text x="231.47" y="968.5" font-size="21.3" text-anchor="middle">100</text>
<text x="320.2" y="968.5" font-size="21.3" text-anchor="middle">150</text>
<text x="179.2" y="997.1" font-size="21.3" font-style="italic" textLength="15.0" lengthAdjust="spacingAndGlyphs">K</text>
<text x="1" y="567" font-size="20.7" font-style="italic" textLength="81" lengthAdjust="spacingAndGlyphs">RMSRE</text>
<text x="84.8" y="559.8" font-size="17.2" textLength="22" lengthAdjust="spacingAndGlyphs">[<tspan font-style="italic">K</tspan>]</text>
<text x="21" y="1022.7" font-size="21.2" textLength="311" lengthAdjust="spacingAndGlyphs">(c) Zero centered, assembly from <tspan font-style="italic">ε</tspan></text>
<path d="M491.33 592.4V947.7M580.07 592.4V947.7M402.6 630.4H668.9M402.6 700.95H668.9M402.6 771.5H668.9M402.6 842.05H668.9M402.6 912.6H668.9" stroke="#c9c9c9" stroke-width="1.0" fill="none"/>
<svg x="402.6" y="592.4" width="266.3" height="355.3" viewBox="402.6 592.4 266.3 355.3" overflow="hidden">
<path d="M403.5 615.95L405.9 619.95L407 624.95L407.8 632.65L408.2 640.45L408.8 651.05L409.8 664.85L412.9 668.95L413.9 671.25L416 675.95L418 683.45L420.1 692.45L423.1 698.95L427.2 706.75L431.3 711.95L435.4 719.25L438.4 725.65L444.6 737.25L447.4 738.45L455.9 747.25L459.9 752.15L462.8 755.15L466 761.45L468.9 765.45L473.6 776.95L480.2 785.45L491.4 794.75L500.8 802.25L508.9 808.55L526.7 820.65L544.5 830.05L562.5 838.95L580.2 848.65L597.8 853.65L615.4 861.35L633.2 871.05L651.1 885.45L655.6 891.85L660.4 898.25L663.1 903.25L664.8 909.65L665.4 914.95L665.7 948.45" fill="none" stroke="#000" stroke-opacity="0.06" stroke-width="3.2" stroke-linejoin="round" stroke-linecap="round"/>
<path d="M404.4 594.4L406 593L410 593L410.3 600L411.4 607.9L416.7 608.4L419 612.5L420.2 614.3L420.8 618.4L422 625.4L426.6 625.4L429 622.5L433 621.9L438.2 621.7L440.9 624.7L446 626.8L449 630.9L451.1 635L455.6 636.6L461.3 640.1L467.4 642.1L473.6 643.5L481.7 644.8L491.4 646.2L498.1 650.3L509.3 654L516.5 655.8L527.1 655.4L530 656.9L544.5 656.9L551.8 660.4L562.5 661.5L571.5 663.5L580.4 664L584.9 665.2L592.2 669.8L597.8 673.5L606.7 675.6L615.6 679.5L623.3 681.2L633.2 682.8L641.9 684.3L651.3 689L656.5 692.6L660.6 698.8L663.7 709.1L665.8 720L666 760L666.6 850L667.1 887.8" fill="none" stroke="#000" stroke-opacity="0.08" stroke-width="6.5" stroke-linejoin="round" stroke-linecap="round"/>
<path d="M404.1 602.05L405.2 605.95L407.4 616.15L409.6 626.45L411 635.45L411.9 641.95L415 651.05L417 662.95L419 676.45L420.1 685.25L423.1 696.65L426.2 706.95L431.3 719.95L435.4 727.95L438 734.55L445.6 745.05L455.8 754.25L464.4 762.95L473.6 768.95L482.4 775.75L491.4 782.15L500.8 788.55L508.9 794.25L519.2 800.75L526.7 807.45L544.4 820.85L562.4 832.85L580.1 849.45L597.7 872.15L615.4 891.35L633.3 910.25L651.1 930.95L661.3 948.45" fill="none" stroke="#4020e0" stroke-opacity="0.06" stroke-width="3.0" stroke-linejoin="round" stroke-linecap="round"/>
<path d="M403.5 615.95L405.9 619.95L407 624.95L407.8 632.65L408.2 640.45L408.8 651.05L409.8 664.85L412.9 668.95L413.9 671.25L416 675.95L418 683.45L420.1 692.45L423.1 698.95L427.2 706.75L431.3 711.95L435.4 719.25L438.4 725.65L444.6 737.25L447.4 738.45L455.9 747.25L459.9 752.15L462.8 755.15L466 761.45L468.9 765.45L473.6 776.95L480.2 785.45L491.4 794.75L500.8 802.25L508.9 808.55L526.7 820.65L544.5 830.05L562.5 838.95L580.2 848.65L597.8 853.65L615.4 861.35L633.2 871.05L651.1 885.45L655.6 891.85L660.4 898.25L663.1 903.25L664.8 909.65L665.4 914.95L665.7 948.45" fill="none" stroke="#777777" stroke-width="1.3" stroke-linejoin="round"/>
<path d="M404.4 594.4L406 593L410 593L410.3 600L411.4 607.9L416.7 608.4L419 612.5L420.2 614.3L420.8 618.4L422 625.4L426.6 625.4L429 622.5L433 621.9L438.2 621.7L440.9 624.7L446 626.8L449 630.9L451.1 635L455.6 636.6L461.3 640.1L467.4 642.1L473.6 643.5L481.7 644.8L491.4 646.2L498.1 650.3L509.3 654L516.5 655.8L527.1 655.4L530 656.9L544.5 656.9L551.8 660.4L562.5 661.5L571.5 663.5L580.4 664L584.9 665.2L592.2 669.8L597.8 673.5L606.7 675.6L615.6 679.5L623.3 681.2L633.2 682.8L641.9 684.3L651.3 689L656.5 692.6L660.6 698.8L663.7 709.1L665.8 720L666 760L666.6 850L667.1 887.8" fill="none" stroke="#777777" stroke-width="1.3" stroke-linejoin="round"/>
<path d="M404.1 602.05L405.2 605.95L407.4 616.15L409.6 626.45L411 635.45L411.9 641.95L415 651.05L417 662.95L419 676.45L420.1 685.25L423.1 696.65L426.2 706.95L431.3 719.95L435.4 727.95L438 734.55L445.6 745.05L455.8 754.25L464.4 762.95L473.6 768.95L482.4 775.75L491.4 782.15L500.8 788.55L508.9 794.25L519.2 800.75L526.7 807.45L544.4 820.85L562.4 832.85L580.1 849.45L597.7 872.15L615.4 891.35L633.3 910.25L651.1 930.95L661.3 948.45" fill="none" stroke="#0000ff" stroke-width="1.25" stroke-linejoin="round"/>
<path d="M404.1 602.05L405.2 605.95L407.4 616.15L409.6 626.45L411 635.45L411.9 641.95L415 651.05L417 662.95L419 676.45L420.1 685.25L423.1 696.65L426.2 706.95L431.3 719.95L435.4 727.95L438 734.55L445.6 745.05L455.8 754.25L464.4 762.95L473.6 768.95L482.4 775.75L491.4 782.15L500.8 788.55L508.9 794.25L519.2 800.75L526.7 807.45L544.4 820.85L562.4 832.85L580.1 849.45L597.7 872.15L615.4 891.35L633.3 910.25L651.1 930.95L661.3 948.45" fill="none" stroke="#0000ff" stroke-width="1.25" stroke-linejoin="round"/>
</svg>
<path d="M404.37 613.27L407.48 617.41L404.37 621.55L401.27 617.41Z" fill="none" stroke="#7d7d7d" stroke-width="1.25"/>
<path d="M420.34 688.83L423.45 692.97L420.34 697.11L417.24 692.97Z" fill="none" stroke="#7d7d7d" stroke-width="1.25"/>
<path d="M438.08 720.83L441.19 724.97L438.08 729.11L434.98 724.97Z" fill="none" stroke="#7d7d7d" stroke-width="1.25"/>
<path d="M455.82 743.03L458.93 747.17L455.82 751.31L452.72 747.17Z" fill="none" stroke="#7d7d7d" stroke-width="1.25"/>
<path d="M473.56 772.71L476.67 776.85L473.56 780.99L470.46 776.85Z" fill="none" stroke="#7d7d7d" stroke-width="1.25"/>
<path d="M491.3 790.53L494.41 794.67L491.3 798.81L488.2 794.67Z" fill="none" stroke="#7d7d7d" stroke-width="1.25"/>
<path d="M509.04 804.51L512.14 808.65L509.04 812.79L505.94 808.65Z" fill="none" stroke="#7d7d7d" stroke-width="1.25"/>
<path d="M526.78 816.55L529.89 820.69L526.78 824.83L523.68 820.69Z" fill="none" stroke="#7d7d7d" stroke-width="1.25"/>
<path d="M544.52 825.92L547.62 830.06L544.52 834.2L541.41 830.06Z" fill="none" stroke="#7d7d7d" stroke-width="1.25"/>
<path d="M562.26 834.69L565.37 838.83L562.26 842.97L559.15 838.83Z" fill="none" stroke="#7d7d7d" stroke-width="1.25"/>
<path d="M580 844.4L583.11 848.54L580 852.68L576.89 848.54Z" fill="none" stroke="#7d7d7d" stroke-width="1.25"/>
<path d="M597.74 849.49L600.85 853.63L597.74 857.77L594.63 853.63Z" fill="none" stroke="#7d7d7d" stroke-width="1.25"/>
<path d="M615.48 857.25L618.59 861.39L615.48 865.53L612.38 861.39Z" fill="none" stroke="#7d7d7d" stroke-width="1.25"/>
<path d="M633.22 866.93L636.33 871.07L633.22 875.21L630.12 871.07Z" fill="none" stroke="#7d7d7d" stroke-width="1.25"/>
<path d="M650.96 881.2L654.07 885.34L650.96 889.48L647.86 885.34Z" fill="none" stroke="#7d7d7d" stroke-width="1.25"/>
<path d="M400.23 594.4H408.51M404.37 590.26V598.54" fill="none" stroke="#7d7d7d" stroke-width="1.25"/>
<path d="M416.2 615.26H424.48M420.34 611.12V619.4" fill="none" stroke="#7d7d7d" stroke-width="1.25"/>
<path d="M433.94 621.7H442.22M438.08 617.56V625.84" fill="none" stroke="#7d7d7d" stroke-width="1.25"/>
<path d="M451.68 636.74H459.96M455.82 632.6V640.88" fill="none" stroke="#7d7d7d" stroke-width="1.25"/>
<path d="M469.42 643.49H477.7M473.56 639.35V647.63" fill="none" stroke="#7d7d7d" stroke-width="1.25"/>
<path d="M487.16 646.19H495.44M491.3 642.05V650.33" fill="none" stroke="#7d7d7d" stroke-width="1.25"/>
<path d="M504.9 653.91H513.18M509.04 649.77V658.05" fill="none" stroke="#7d7d7d" stroke-width="1.25"/>
<path d="M522.64 655.41H530.92M526.78 651.27V659.55" fill="none" stroke="#7d7d7d" stroke-width="1.25"/>
<path d="M540.38 656.91H548.66M544.52 652.77V661.05" fill="none" stroke="#7d7d7d" stroke-width="1.25"/>
<path d="M558.12 661.48H566.4M562.26 657.34V665.62" fill="none" stroke="#7d7d7d" stroke-width="1.25"/>
<path d="M575.86 663.98H584.14M580 659.84V668.12" fill="none" stroke="#7d7d7d" stroke-width="1.25"/>
<path d="M593.6 673.46H601.88M597.74 669.32V677.6" fill="none" stroke="#7d7d7d" stroke-width="1.25"/>
<path d="M611.34 679.45H619.62M615.48 675.31V683.59" fill="none" stroke="#7d7d7d" stroke-width="1.25"/>
<path d="M629.08 682.8H637.36M633.22 678.66V686.94" fill="none" stroke="#7d7d7d" stroke-width="1.25"/>
<path d="M646.82 688.83H655.1M650.96 684.69V692.97" fill="none" stroke="#7d7d7d" stroke-width="1.25"/>
<path d="M662.96 887.8H671.24M667.1 883.66V891.94" fill="none" stroke="#7d7d7d" stroke-width="1.25"/>
<path d="M404.37 598.63L400.2 601.67L401.79 606.57L406.95 606.57L408.55 601.67Z" fill="none" stroke="#0000ff" stroke-width="1.25"/>
<path d="M420.34 681.77L416.17 684.81L417.76 689.71L422.92 689.71L424.51 684.81Z" fill="none" stroke="#0000ff" stroke-width="1.25"/>
<path d="M438.08 730.27L433.91 733.3L435.5 738.21L440.66 738.21L442.25 733.3Z" fill="none" stroke="#0000ff" stroke-width="1.25"/>
<path d="M455.82 749.88L451.65 752.91L453.24 757.82L458.4 757.82L459.99 752.91Z" fill="none" stroke="#0000ff" stroke-width="1.25"/>
<path d="M473.56 764.54L469.39 767.57L470.98 772.47L476.14 772.47L477.73 767.57Z" fill="none" stroke="#0000ff" stroke-width="1.25"/>
<path d="M491.3 777.69L487.13 780.72L488.72 785.63L493.88 785.63L495.47 780.72Z" fill="none" stroke="#0000ff" stroke-width="1.25"/>
<path d="M509.04 789.95L504.87 792.98L506.46 797.89L511.62 797.89L513.21 792.98Z" fill="none" stroke="#0000ff" stroke-width="1.25"/>
<path d="M526.78 803.12L522.61 806.15L524.2 811.06L529.36 811.06L530.95 806.15Z" fill="none" stroke="#0000ff" stroke-width="1.25"/>
<path d="M544.52 816.54L540.35 819.57L541.94 824.48L547.1 824.48L548.69 819.57Z" fill="none" stroke="#0000ff" stroke-width="1.25"/>
<path d="M562.26 828.37L558.09 831.4L559.68 836.31L564.84 836.31L566.43 831.4Z" fill="none" stroke="#0000ff" stroke-width="1.25"/>
<path d="M580 844.97L575.83 848L577.42 852.91L582.58 852.91L584.17 848Z" fill="none" stroke="#0000ff" stroke-width="1.25"/>
<path d="M597.74 867.8L593.57 870.84L595.16 875.74L600.32 875.74L601.91 870.84Z" fill="none" stroke="#0000ff" stroke-width="1.25"/>
<path d="M615.48 887.05L611.31 890.08L612.9 894.98L618.06 894.98L619.65 890.08Z" fill="none" stroke="#0000ff" stroke-width="1.25"/>
<path d="M633.22 905.78L629.05 908.81L630.64 913.72L635.8 913.72L637.39 908.81Z" fill="none" stroke="#0000ff" stroke-width="1.25"/>
<path d="M650.96 926.4L646.79 929.43L648.38 934.34L653.54 934.34L655.13 929.43Z" fill="none" stroke="#0000ff" stroke-width="1.25"/>
<path d="M404.37 603.02L404.37 598.88M404.37 603.02L400.44 601.74M404.37 603.02L401.94 606.37M404.37 603.02L406.81 606.37M404.37 603.02L408.31 601.74" fill="none" stroke="#0000ff" stroke-width="1.25"/>
<path d="M420.34 686.16L420.34 682.02M420.34 686.16L416.4 684.88M420.34 686.16L417.91 689.51M420.34 686.16L422.77 689.51M420.34 686.16L424.28 684.88" fill="none" stroke="#0000ff" stroke-width="1.25"/>
<path d="M438.08 734.66L438.08 730.52M438.08 734.66L434.14 733.38M438.08 734.66L435.65 738.01M438.08 734.66L440.51 738.01M438.08 734.66L442.02 733.38" fill="none" stroke="#0000ff" stroke-width="1.25"/>
<path d="M455.82 754.27L455.82 750.13M455.82 754.27L451.88 752.99M455.82 754.27L453.39 757.62M455.82 754.27L458.25 757.62M455.82 754.27L459.76 752.99" fill="none" stroke="#0000ff" stroke-width="1.25"/>
<path d="M473.56 768.92L473.56 764.78M473.56 768.92L469.62 767.64M473.56 768.92L471.13 772.27M473.56 768.92L475.99 772.27M473.56 768.92L477.5 767.64" fill="none" stroke="#0000ff" stroke-width="1.25"/>
<path d="M491.3 782.08L491.3 777.94M491.3 782.08L487.36 780.8M491.3 782.08L488.87 785.43M491.3 782.08L493.73 785.43M491.3 782.08L495.24 780.8" fill="none" stroke="#0000ff" stroke-width="1.25"/>
<path d="M509.04 794.34L509.04 790.2M509.04 794.34L505.1 793.06M509.04 794.34L506.61 797.69M509.04 794.34L511.47 797.69M509.04 794.34L512.98 793.06" fill="none" stroke="#0000ff" stroke-width="1.25"/>
<path d="M526.78 807.51L526.78 803.37M526.78 807.51L522.84 806.23M526.78 807.51L524.35 810.86M526.78 807.51L529.21 810.86M526.78 807.51L530.72 806.23" fill="none" stroke="#0000ff" stroke-width="1.25"/>
<path d="M544.52 820.93L544.52 816.79M544.52 820.93L540.58 819.65M544.52 820.93L542.09 824.28M544.52 820.93L546.95 824.28M544.52 820.93L548.46 819.65" fill="none" stroke="#0000ff" stroke-width="1.25"/>
<path d="M562.26 832.76L562.26 828.62M562.26 832.76L558.32 831.48M562.26 832.76L559.83 836.11M562.26 832.76L564.69 836.11M562.26 832.76L566.2 831.48" fill="none" stroke="#0000ff" stroke-width="1.25"/>
<path d="M580 849.36L580 845.22M580 849.36L576.06 848.08M580 849.36L577.57 852.71M580 849.36L582.43 852.71M580 849.36L583.94 848.08" fill="none" stroke="#0000ff" stroke-width="1.25"/>
<path d="M597.74 872.19L597.74 868.05M597.74 872.19L593.8 870.91M597.74 872.19L595.31 875.54M597.74 872.19L600.17 875.54M597.74 872.19L601.68 870.91" fill="none" stroke="#0000ff" stroke-width="1.25"/>
<path d="M615.48 891.43L615.48 887.29M615.48 891.43L611.54 890.16M615.48 891.43L613.05 894.78M615.48 891.43L617.91 894.78M615.48 891.43L619.42 890.16" fill="none" stroke="#0000ff" stroke-width="1.25"/>
<path d="M633.22 910.17L633.22 906.03M633.22 910.17L629.28 908.89M633.22 910.17L630.79 913.51M633.22 910.17L635.65 913.51M633.22 910.17L637.16 908.89" fill="none" stroke="#0000ff" stroke-width="1.25"/>
<path d="M650.96 930.79L650.96 926.65M650.96 930.79L647.02 929.51M650.96 930.79L648.53 934.14M650.96 930.79L653.39 934.14M650.96 930.79L654.9 929.51" fill="none" stroke="#0000ff" stroke-width="1.25"/>
<path d="M491.33 947.7v-8.8M491.33 592.4v8.8M580.07 947.7v-8.8M580.07 592.4v8.8M402.6 630.4h8.8M668.9 630.4h-8.8M402.6 700.95h8.8M668.9 700.95h-8.8M402.6 771.5h8.8M668.9 771.5h-8.8M402.6 842.05h8.8M668.9 842.05h-8.8M402.6 912.6h8.8M668.9 912.6h-8.8" stroke="#000" stroke-opacity="0.38" stroke-width="0.9" fill="none"/>
<path d="M402.6 592.4H668.9V947.7H402.6Z" fill="none" stroke="#202020" stroke-width="1.3" stroke-linejoin="round"/>
<text x="352.2" y="639.3" font-size="21.3" textLength="20.2" lengthAdjust="spacingAndGlyphs">10</text>
<rect x="374.7" y="627" width="9.8" height="1.0" fill="#111"/>
<text x="390.1" y="631.9" font-size="15.11" text-anchor="middle">1</text>
<text x="352.2" y="709.85" font-size="21.3" textLength="20.2" lengthAdjust="spacingAndGlyphs">10</text>
<rect x="374.7" y="697.55" width="9.8" height="1.0" fill="#111"/>
<text x="390.1" y="702.45" font-size="15.11" text-anchor="middle">3</text>
<text x="352.2" y="780.4" font-size="21.3" textLength="20.2" lengthAdjust="spacingAndGlyphs">10</text>
<rect x="374.7" y="768.1" width="9.8" height="1.0" fill="#111"/>
<text x="390.1" y="773" font-size="15.11" text-anchor="middle">5</text>
<text x="352.2" y="850.95" font-size="21.3" textLength="20.2" lengthAdjust="spacingAndGlyphs">10</text>
<rect x="374.7" y="838.65" width="9.8" height="1.0" fill="#111"/>
<text x="390.1" y="843.55" font-size="15.11" text-anchor="middle">7</text>
<text x="352.2" y="921.5" font-size="21.3" textLength="20.2" lengthAdjust="spacingAndGlyphs">10</text>
<rect x="374.7" y="909.2" width="9.8" height="1.0" fill="#111"/>
<text x="390.1" y="914.1" font-size="15.11" text-anchor="middle">9</text>
<text x="402.6" y="968.5" font-size="21.3" text-anchor="middle">0</text>
<text x="491.33" y="968.5" font-size="21.3" text-anchor="middle">50</text>
<text x="580.07" y="968.5" font-size="21.3" text-anchor="middle">100</text>
<text x="668.8" y="968.5" font-size="21.3" text-anchor="middle">150</text>
<text x="527.8" y="997.1" font-size="21.3" font-style="italic" textLength="15.0" lengthAdjust="spacingAndGlyphs">K</text>
<text x="349.6" y="567" font-size="20.7" font-style="italic" textLength="81" lengthAdjust="spacingAndGlyphs">RMSRE</text>
<text x="433.4" y="559.8" font-size="17.2" textLength="22" lengthAdjust="spacingAndGlyphs">[<tspan font-style="italic">K</tspan>]</text>
<text x="364.6" y="1022.7" font-size="21.2" textLength="317" lengthAdjust="spacingAndGlyphs">(d) Zero centered, assembly from <tspan font-style="italic">σ</tspan></text>
</svg></body></html>
